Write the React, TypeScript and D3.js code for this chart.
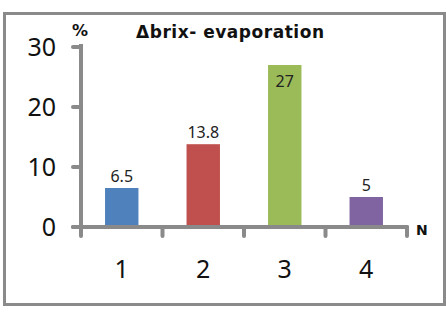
import * as d3 from "d3";

const categories = ["1", "2", "3", "4"];
const values = [6.5, 13.8, 27, 5];
const valueLabels = ["6.5", "13.8", "27", "5"];
const barColors = ["#4F81BD", "#C0504D", "#9BBB59", "#8064A2"];
const yTicks = [0, 10, 20, 30];
const title = "\u0394brix- evaporation";

export default function App() {
  const width = 446;
  const height = 313;
  const axisColor = "#8a8a8a";
  const fontFamily = "'Noto Sans', 'Open Sans', sans-serif";
  const boldFamily = "'DejaVu Sans', Verdana, sans-serif";

  const y = d3.scaleLinear().domain([0, 30]).range([227, 47]);
  const x = d3
    .scaleBand<string>()
    .domain(categories)
    .range([81, 407])
    .paddingInner(0.59)
    .paddingOuter(0.295);
  const step = x.step();
  const x0 = x(categories[0])! - x.paddingOuter() * step;
  const boundaries = d3.range(categories.length + 1).map(i => x0 + i * step);

  return (
    <svg
      width={width}
      height={height}
      style={{ position: "absolute", left: 0, top: 0, background: "white" }}
    >
      <rect x={4.5} y={13.5} width={440} height={291} fill="white" stroke={axisColor} strokeWidth={3} />

      <text
        x={230}
        y={38}
        textAnchor="middle"
        fontFamily={boldFamily}
        fontWeight="bold"
        fontSize={17}
        textLength={188}
        lengthAdjust="spacing"
        fill="#111"
      >
        {title}
      </text>

      {values.map((v, i) => (
        <rect
          key={i}
          x={x(categories[i])}
          y={y(v)}
          width={x.bandwidth()}
          height={y(0) - y(v)}
          fill={barColors[i]}
        />
      ))}

      {/* y axis */}
      <line x1={81} x2={81} y1={y(30) - 3} y2={236} stroke={axisColor} strokeWidth={4} />
      {yTicks.map(t => (
        <g key={t}>
          <line x1={73} x2={81} y1={y(t)} y2={y(t)} stroke={axisColor} strokeWidth={4} strokeLinecap="round" />
          <text
            x={56}
            y={y(t)}
            dy="0.36em"
            textAnchor="end"
            fontFamily={fontFamily}
            fontSize={25}
            fill="#111"
          >
            {t}
          </text>
        </g>
      ))}

      {/* x axis */}
      <line x1={73} x2={407} y1={y(0)} y2={y(0)} stroke={axisColor} strokeWidth={4} strokeLinecap="round" />
      {boundaries.map((b, i) => (
        <line key={i} x1={b} x2={b} y1={y(0)} y2={236} stroke={axisColor} strokeWidth={4} strokeLinecap="round" />
      ))}
      {categories.map(c => (
        <text
          key={c}
          x={x(c)! + x.bandwidth() / 2}
          y={278}
          textAnchor="middle"
          fontFamily={fontFamily}
          fontSize={25}
          fill="#111"
        >
          {c}
        </text>
      ))}

      {values.map((v, i) => {
        const top = y(v);
        const inside = top - 24 < y(30);
        return (
          <text
            key={i}
            x={x(categories[i])! + x.bandwidth() / 2}
            y={inside ? top + 22 : top - 6}
            textAnchor="middle"
            fontFamily={fontFamily}
            fontSize={16}
            fill="#222"
          >
            {valueLabels[i]}
          </text>
        );
      })}

      <text x={80} y={36} textAnchor="middle" fontFamily={boldFamily} fontWeight="bold" fontSize={16} fill="#111">
        %
      </text>
      <text x={416} y={235} fontFamily={boldFamily} fontWeight="bold" fontSize={14} fill="#111">
        N
      </text>
    </svg>
  );
}
